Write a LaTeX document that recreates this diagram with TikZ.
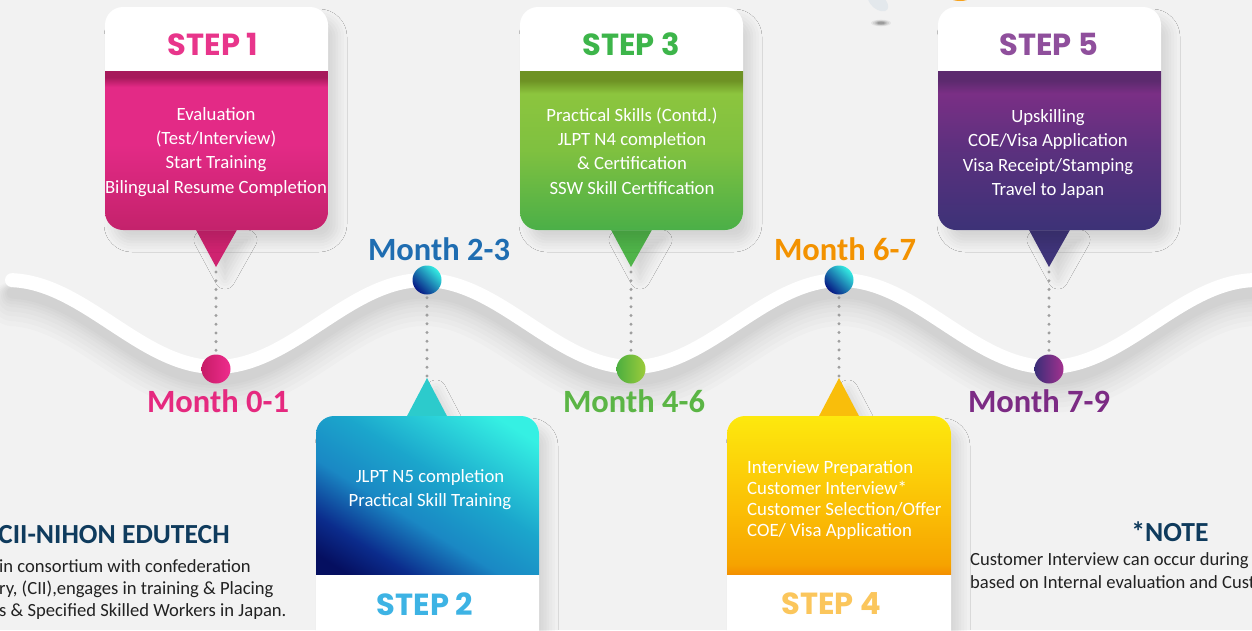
\documentclass[tikz,border=0pt]{standalone}
\usepackage{fontspec}
\setmainfont{Carlito}
\newfontfamily\stepfont{Poppins}
\usetikzlibrary{shadows.blur}
\definecolor{bgc}{HTML}{F2F2F2}
\definecolor{navy}{HTML}{0F3B5D}
\definecolor{bodygray}{HTML}{222222}
% pink
\definecolor{pinkH}{HTML}{E8358B}
\definecolor{pB}{HTML}{C3226B}
\definecolor{pM}{HTML}{E32A86}
\definecolor{pS}{HTML}{A7195B}
\definecolor{pTri}{HTML}{CF2370}
\definecolor{mPinkL}{HTML}{C71C67}
\definecolor{mPinkR}{HTML}{EE2C8D}
\definecolor{monA}{HTML}{E5297F}
% green
\definecolor{greenH}{HTML}{3DB54A}
\definecolor{gB}{HTML}{4AAF48}
\definecolor{gM}{HTML}{8CC53E}
\definecolor{gS}{HTML}{6E9224}
\definecolor{gTri}{HTML}{4FB449}
\definecolor{mGreenL}{HTML}{4CAF3F}
\definecolor{mGreenR}{HTML}{9CCB3B}
\definecolor{monC}{HTML}{5BB545}
% purple
\definecolor{purpH}{HTML}{8F4F9C}
\definecolor{uB}{HTML}{3C3277}
\definecolor{uM}{HTML}{7A2F85}
\definecolor{uS}{HTML}{5C2A6E}
\definecolor{uTri}{HTML}{3F3479}
\definecolor{mPurpL}{HTML}{3A2E78}
\definecolor{mPurpR}{HTML}{A3318F}
\definecolor{monE}{HTML}{7C2B84}
% blue
\definecolor{bT}{HTML}{35F0E3}
\definecolor{bU}{HTML}{1BA6CC}
\definecolor{bM}{HTML}{1A88C4}
\definecolor{bN}{HTML}{0B2C8C}
\definecolor{bB}{HTML}{050F60}
\definecolor{bTri}{HTML}{2CCBCC}
\definecolor{blueH}{HTML}{3DB3E4}
\definecolor{monB}{HTML}{1F6DB1}
\definecolor{mBlueT}{HTML}{34EDE3}
\definecolor{mBlueB}{HTML}{061683}
% yellow
\definecolor{yT}{HTML}{FDE90E}
\definecolor{yM}{HTML}{FBBE05}
\definecolor{yO}{HTML}{F6A300}
\definecolor{yB}{HTML}{F39000}
\definecolor{yTri}{HTML}{F9BE0B}
\definecolor{yellowH}{HTML}{FBC65C}
\definecolor{monD}{HTML}{F39200}
\definecolor{fragO}{HTML}{F7A21B}
\definecolor{fragB}{HTML}{E3E8EC}

\pgfdeclareverticalshading{sone}{100bp}{color(0bp)=(pB); color(25bp)=(pB); color(52bp)=(pM); color(70bp)=(pM); color(73bp)=(pS); color(75bp)=(pS); color(100bp)=(pS)}
\pgfdeclareverticalshading{sthree}{100bp}{color(0bp)=(gB); color(25bp)=(gB); color(50bp)=(gM!80!gB); color(68bp)=(gM); color(72bp)=(gS); color(75bp)=(gS); color(100bp)=(gS)}
\pgfdeclareverticalshading{sfive}{100bp}{color(0bp)=(uB); color(25bp)=(uB); color(50bp)=(uB!50!uM); color(68bp)=(uM); color(72bp)=(uS); color(75bp)=(uS); color(100bp)=(uS)}
\pgfdeclareverticalshading{sfour}{100bp}{color(0bp)=(yB); color(25bp)=(yB); color(28bp)=(yO); color(45bp)=(yM); color(75bp)=(yT); color(100bp)=(yT)}
\pgfdeclareverticalshading{stwo}{100bp}{color(0bp)=(bB); color(20bp)=(bB); color(29bp)=(bN); color(42bp)=(bM); color(56bp)=(bU); color(78bp)=(bT); color(100bp)=(bT)}

\tikzset{
  cardshadow/.style={blur shadow={shadow xshift=9pt, shadow yshift=-12pt, shadow blur radius=10pt, shadow opacity=12}},
  steplab/.style={font=\stepfont\bfseries\fontsize{30.5}{34}\selectfont, anchor=base, inner sep=0pt},
  bodytxt/.style={text=white, align=center, font=\fontsize{18.7}{24.2}\selectfont, inner sep=0pt},
  monthlab/.style={font=\bfseries\fontsize{32.5}{36}\selectfont, anchor=base, inner sep=0pt},
  dotline/.style={draw=gray!75, line width=3.3pt, line cap=round, dash pattern=on 0pt off 8.7pt},
  dotnode/.style={circle, minimum size=29pt, inner sep=0pt},
  infotxt/.style={text=bodygray, font=\fontsize{18.6}{22}\selectfont, anchor=base west, inner sep=0pt},
  infohead/.style={text=navy, font=\bfseries\fontsize{27.6}{30}\selectfont, anchor=base, inner sep=0pt},
}

\begin{document}
\begin{tikzpicture}[x=1pt,y=-1pt]
\useasboundingbox (0,0) rectangle (1252,630);
\clip (0,0) rectangle (1252,630);
\fill[bgc] (0,0) rectangle (1252,630);

% decorative fragments at the top
\fill[fragO] (960,-9) ellipse [x radius=16, y radius=10];
\fill[fragB, rotate around={-40:(878,2)}] (878,2) ellipse [x radius=12, y radius=7];
\foreach \r/\o in {10/0.06,8/0.08,6/0.12,4/0.15}
  \fill[black, opacity=\o] (881,23) ellipse [x radius=\r, y radius=\r/3];

% wave
\def\wavepath{plot[domain=12:1262,samples=160,smooth] (\x,{323.5-43.5*cos((\x-424)*0.8643)})}
\foreach \s/\w in {24/44,22/38,20/32,18/27,16/22,15/18,14/14,13/11}
  \draw[black, opacity=0.016, line width=\w pt, line cap=round, shift={(0,\s)}] \wavepath;
\draw[white, line width=14pt, line cap=round] \wavepath;

% ---------- STEP 1 ----------
\fill[pTri, cardshadow] (195,228) -- (238,228) -- (216,267) -- cycle;
\coordinate (t1) at (216,272);
\path[fill=white, cardshadow, rounded corners=18pt] (105,7) rectangle (328,230);
\begin{scope}
  \clip[rounded corners=18pt] (105,7) rectangle (328,230);
  \shade[shading=sone] (105,71) rectangle (328,231);
\end{scope}
\node[steplab, text=pinkH] (h1) at (213,55) {STEP 1};
\node[bodytxt] (b1) at (216,152) {Evaluation\\(Test/Interview)\\Start Training\\Bilingual Resume Completion};

% ---------- STEP 3 ----------
\fill[gTri, cardshadow] (610,228) -- (653,228) -- (631,267) -- cycle;
\coordinate (t3) at (631,272);
\path[fill=white, cardshadow, rounded corners=18pt] (520,7) rectangle (743,230);
\begin{scope}
  \clip[rounded corners=18pt] (520,7) rectangle (743,230);
  \shade[shading=sthree] (520,71) rectangle (743,231);
\end{scope}
\node[steplab, text=greenH] (h3) at (631,55) {STEP 3};
\node[bodytxt] (b3) at (632,151) {Practical Skills (Contd.)\\JLPT N4 completion\\\& Certification\\SSW Skill Certification};

% ---------- STEP 5 ----------
\fill[uTri, cardshadow] (1028,228) -- (1071,228) -- (1049,267) -- cycle;
\coordinate (t5) at (1049,272);
\path[fill=white, cardshadow, rounded corners=18pt] (938,7) rectangle (1161,230);
\begin{scope}
  \clip[rounded corners=18pt] (938,7) rectangle (1161,230);
  \shade[shading=sfive] (938,71) rectangle (1161,231);
\end{scope}
\node[steplab, text=purpH] (h5) at (1049,55) {STEP 5};
\node[bodytxt] (b5) at (1048,154) {Upskilling\\COE/Visa Application\\Visa Receipt/Stamping\\Travel to Japan};

% ---------- STEP 2 ----------
\fill[bTri, cardshadow] (406,418) -- (448,418) -- (427,378) -- cycle;
\coordinate (t2) at (427,376);
\path[fill=white, cardshadow, rounded corners=18pt] (316,416) rectangle (539,665);
\begin{scope}
  \clip[rounded corners=18pt] (316,416) rectangle (539,665);
  \shade[shading=stwo, shading angle=-32] (316,415) rectangle (539,574);
\end{scope}
\node[bodytxt] (b2) at (430,490) {JLPT N5 completion\\Practical Skill Training};
\node[steplab, text=blueH] (h2) at (425,615) {STEP 2};

% ---------- STEP 4 ----------
\fill[yTri, cardshadow] (818,418) -- (860,418) -- (839,378) -- cycle;
\coordinate (t4) at (839,376);
\path[fill=white, cardshadow, rounded corners=18pt] (727,416) rectangle (951,665);
\begin{scope}
  \clip[rounded corners=18pt] (727,416) rectangle (951,665);
  \shade[shading=sfour] (727,415) rectangle (951,574);
\end{scope}
\node[bodytxt, align=left, anchor=west, font=\fontsize{18.8}{21.3}\selectfont] (b4) at (747,500) {Interview Preparation\\Customer Interview*\\Customer Selection/Offer\\COE/ Visa Application};
\node[steplab, text=yellowH] (h4) at (831,614) {STEP 4};

% ---------- timeline markers ----------
\node[dotnode, left color=mPinkL, right color=mPinkR] (m1) at (216,369) {};
\node[dotnode, top color=mBlueT, bottom color=mBlueB, shading angle=-45] (m2) at (427,280) {};
\node[dotnode, left color=mGreenL, right color=mGreenR] (m3) at (631,369) {};
\node[dotnode, top color=mBlueT, bottom color=mBlueB, shading angle=-45] (m4) at (839,280) {};
\node[dotnode, left color=mPurpL, right color=mPurpR] (m5) at (1049,369) {};

\draw[dotline] (t1) -- ([yshift=2pt]m1.north);
\draw[dotline] (t3) -- ([yshift=2pt]m3.north);
\draw[dotline] (t5) -- ([yshift=2pt]m5.north);
\draw[dotline] ([yshift=-3pt]m2.south) -- (t2);
\draw[dotline] ([yshift=-3pt]m4.south) -- (t4);

\node[monthlab, text=monA] (l1) at (218,412) {Month 0-1};
\node[monthlab, text=monB] (l2) at (439,260) {Month 2-3};
\node[monthlab, text=monC] (l3) at (634,412) {Month 4-6};
\node[monthlab, text=monD] (l4) at (845,260) {Month 6-7};
\node[monthlab, text=monE] (l5) at (1039,412) {Month 7-9};

% ---------- side texts ----------
\node[infohead, anchor=base west] (cii) at (-2,543) {CII-NIHON EDUTECH};
\node[infotxt] (c1) at (-1,572) {in consortium with confederation};
\node[infotxt] (c2) at (-1,594) {ry, (CII),engages in training \& Placing};
\node[infotxt] (c3) at (-1,616) {s \& Specified Skilled Workers in Japan.};

\node[infohead] (note) at (1170,541) {*NOTE};
\node[infotxt] (n1) at (970,565) {Customer Interview can occur during};
\node[infotxt] (n2) at (970,588) {based on Internal evaluation and Cust};
\end{tikzpicture}
\end{document}
